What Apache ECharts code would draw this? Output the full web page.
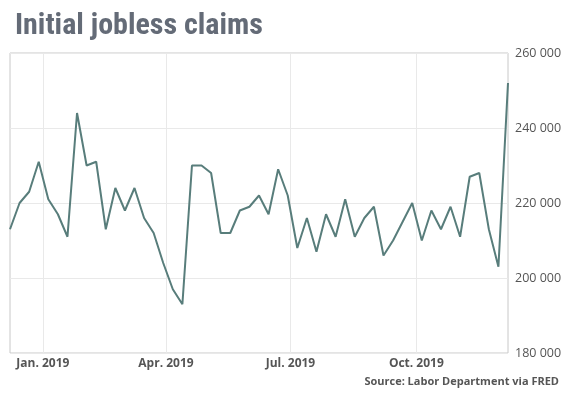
<!DOCTYPE html>
<html>
<head>
<meta charset="utf-8">
<script src="https://cdn.jsdelivr.net/npm/echarts@6/dist/echarts.min.js"></script>
<style>
html,body{margin:0;padding:0;background:#fff;}
#chart{width:569px;height:398px;}
</style>
</head>
<body>
<div id="chart"></div>
<script>
var weeks = ['2018-12-08','2018-12-15','2018-12-22','2018-12-29',
    '2019-01-05','2019-01-12','2019-01-19','2019-01-26',
    '2019-02-02','2019-02-09','2019-02-16','2019-02-23',
    '2019-03-02','2019-03-09','2019-03-16','2019-03-23','2019-03-30',
    '2019-04-06','2019-04-13','2019-04-20','2019-04-27',
    '2019-05-04','2019-05-11','2019-05-18','2019-05-25',
    '2019-06-01','2019-06-08','2019-06-15','2019-06-22','2019-06-29',
    '2019-07-06','2019-07-13','2019-07-20','2019-07-27',
    '2019-08-03','2019-08-10','2019-08-17','2019-08-24','2019-08-31',
    '2019-09-07','2019-09-14','2019-09-21','2019-09-28',
    '2019-10-05','2019-10-12','2019-10-19','2019-10-26',
    '2019-11-02','2019-11-09','2019-11-16','2019-11-23','2019-11-30',
    '2019-12-07'];
var claims = [213000,220000,223000,231000,
    221000,217000,211000,244000,
    230000,231000,213000,224000,
    218000,224000,216000,212000,204000,
    197000,193000,230000,230000,
    228000,212000,212000,218000,
    219000,222000,217000,229000,222000,
    208000,216000,207000,217000,
    211000,221000,211000,216000,219000,
    206000,210000,215000,220000,
    210000,218000,213000,219000,
    211000,227000,228000,213000,203000,
    252000];
var quarterTicks = ['2019-01-01','2019-04-01','2019-07-01','2019-10-01'];
var yTicks = [180000,200000,220000,240000,260000];
var monthNames = ['Jan.','Feb.','Mar.','Apr.','May','Jun.','Jul.','Aug.','Sep.','Oct.','Nov.','Dec.'];

function ts(s) {
    return echarts.time.parse(s).getTime();
}

var chart = echarts.init(document.getElementById('chart'));
var points = [];
for (var i = 0; i < weeks.length; i++) {
    points.push([ts(weeks[i]), claims[i]]);
}
var tickTimes = quarterTicks.map(ts);

var option = {
    animation: false,
    title: {
        text: 'Initial jobless claims',
        left: 10,
        top: 6,
        textStyle: {
            color: '#646b77',
            fontFamily: '"Liberation Sans Narrow", "Roboto Condensed", Roboto',
            fontWeight: 'bold',
            fontSize: 30
        }
    },
    graphic: [{
        type: 'text',
        right: 10,
        top: 376,
        style: {
            text: 'Source: Labor Department via FRED',
            fill: '#555',
            font: 'bold 11px "Open Sans"'
        }
    }],
    grid: {
        left: 10,
        right: 61,
        top: 53,
        bottom: 45,
        show: true,
        borderColor: '#c8c8c8',
        borderWidth: 1
    },
    xAxis: {
        type: 'value',
        min: ts(weeks[0]),
        max: ts(weeks[weeks.length - 1]),
        axisLine: {show: false},
        axisTick: {show: false, customValues: tickTimes},
        splitLine: {show: true, lineStyle: {color: '#e9e9e9'}},
        axisLabel: {
            customValues: tickTimes,
            color: '#555',
            fontFamily: 'Open Sans',
            fontWeight: 'bold',
            fontSize: 12,
            margin: 5,
            formatter: function(v) {
                var d = new Date(v);
                return monthNames[d.getMonth()] + ' ' + d.getFullYear();
            }
        }
    },
    yAxis: {
        type: 'value',
        position: 'right',
        min: yTicks[0],
        max: yTicks[yTicks.length - 1],
        interval: yTicks[1] - yTicks[0],
        axisLine: {show: false},
        axisTick: {show: false},
        splitLine: {lineStyle: {color: '#e9e9e9'}},
        axisLabel: {
            color: '#555',
            fontFamily: 'Open Sans',
            fontSize: 12.5,
            margin: 7,
            formatter: function(v) {
                return String(v).replace(/\B(?=(\d{3})+(?!\d))/g, ' ');
            }
        }
    },
    series: [{
        name: 'Initial claims',
        type: 'line',
        data: points,
        showSymbol: false,
        lineStyle: {color: '#587d7b', width: 2},
        itemStyle: {color: '#587d7b'}
    }]
};
chart.setOption(option);
</script>
</body>
</html>
